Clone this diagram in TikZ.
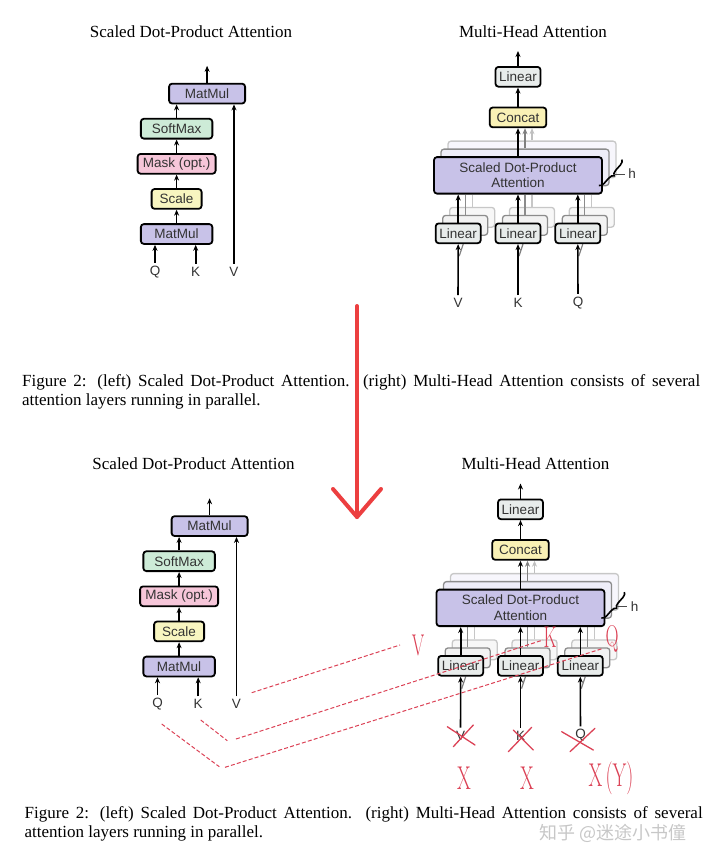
\documentclass[tikz,border=0pt]{standalone}
\usepackage{fontspec}
\usepackage{xcolor}
\usepackage{tikz}
\usetikzlibrary{arrows.meta,positioning,backgrounds,decorations.pathreplacing}
\newfontfamily\capfont{Liberation Serif}
\newfontfamily\boxfont{Liberation Sans}
\newfontfamily\zhfont{Noto Sans CJK SC}
\definecolor{mmpurple}{HTML}{C8C2E8}
\definecolor{smgreen}{HTML}{CDEBD7}
\definecolor{mkpink}{HTML}{F6C6D9}
\definecolor{scyellow}{HTML}{F8F5C0}
\definecolor{lngray}{HTML}{E8ECEB}
\definecolor{ccyellow}{HTML}{F9F1B5}
\definecolor{markred}{HTML}{DB4155}
\definecolor{arrowred}{HTML}{EC3F40}
\newcommand{\redtxt}[2][30]{\scalebox{0.6}[1]{\rmfamily\fontsize{#1}{#1}\selectfont #2}}

\begin{document}
\begin{tikzpicture}[x=1pt,y=-1pt,
  every node/.style={font=\boxfont\fontsize{13.5}{15.5}\selectfont,text=black!80},
  box/.style={draw=black,line width=1.8pt,rounded corners=3pt,inner sep=0pt,minimum height=19.8pt,align=center},
  ghost/.style={draw,line width=1.3pt,rounded corners=3pt,inner sep=0pt,minimum height=19.8pt},
  inp/.style={inner sep=3pt},
  arr/.style={-{Stealth[length=6pt,width=5pt]},line width=1.6pt},
  ttl/.style={font=\capfont\fontsize{17}{20}\selectfont,text=black,anchor=base},
  capline/.style={font=\capfont\fontsize{17}{20}\selectfont,text=black,anchor=base west,inner sep=0pt},
  redletter/.style={text=markred,inner sep=0pt},
  redline/.style={markred,line width=1pt,dash pattern=on 4pt off 2.2pt},
  cross/.style={markred,line width=1.3pt,line cap=round}]
\useasboundingbox (0,0) rectangle (720,863);

% original figure, then the same figure again below
\foreach \p/\dx/\dy in {a/0/0,b/2.5/432.5}{
\begin{scope}[shift={(\dx,\dy)}]
% left: scaled dot-product attention
\node[ttl] (\p-t1) at (191,37) {Scaled Dot-Product Attention};
\node[box,fill=mmpurple,minimum width=71.5pt] (\p-mm1) at (176.6,234) {MatMul};
\node[box,fill=scyellow,minimum width=50pt,above=13.5pt of \p-mm1] (\p-sc) {Scale};
\node[box,fill=mkpink,minimum width=78pt,above=13.5pt of \p-sc] (\p-mk) {Mask (opt.)};
\node[box,fill=smgreen,minimum width=71.5pt,above=13.5pt of \p-mk] (\p-sm) {SoftMax};
\node[box,fill=mmpurple,minimum width=76pt,above=13.5pt of \p-sm,xshift=30.5pt] (\p-mm2) {MatMul};
\node[inp] (\p-q) at (155,271.7) {Q};
\node[inp] (\p-k) at (195.7,271.7) {K};
\node[inp] (\p-v) at (234,271.7) {V};
\coordinate[above=17pt of \p-mm2] (\p-o1);
\draw[arr] (\p-q) -- (\p-q |- \p-mm1.south);
\draw[arr] (\p-k) -- (\p-k |- \p-mm1.south);
\draw[arr] (\p-v) -- (\p-v |- \p-mm2.south);
\draw[arr] (\p-mm1) -- (\p-sc);
\draw[arr] (\p-sc) -- (\p-mk);
\draw[arr] (\p-mk) -- (\p-sm);
\draw[arr] (\p-sm) -- (\p-sm |- \p-mm2.south);
\draw[arr] (\p-mm2) -- (\p-o1);
% right: multi-head attention
\node[ttl] (\p-t2) at (533,37) {Multi-Head Attention};
\node[box,fill=lngray,minimum width=45pt] (\p-l2) at (518,233.3) {Linear};
\node[box,fill=lngray,minimum width=45pt,left=13pt of \p-l2] (\p-l1) {Linear};
\node[box,fill=lngray,minimum width=45pt,right=13pt of \p-l2] (\p-l3) {Linear};
\node[box,fill=mmpurple,minimum width=168pt,minimum height=36.5pt,above=28pt of \p-l2] (\p-at) {Scaled Dot-Product\\Attention};
\node[box,fill=ccyellow,minimum width=56.5pt,above=28pt of \p-at] (\p-cc) {Concat};
\node[box,fill=lngray,minimum width=45pt,above=19pt of \p-cc] (\p-lo) {Linear};
\coordinate[above=15pt of \p-lo] (\p-o2);
\node[inp] (\p-iv) at (458,303) {V};
\node[inp] (\p-ik) at (518,303) {K};
\node[inp] (\p-iq) at (578,303) {Q};
\begin{pgfonlayer}{background}
\foreach \n in {l1,l2,l3}{
  \node[ghost,draw=black!22,fill=black!3,minimum width=45pt,xshift=14pt,yshift=16pt] (\p-\n g2) at (\p-\n) {};
  \node[ghost,draw=black!45,fill=black!5,minimum width=45pt,xshift=7pt,yshift=8pt] (\p-\n g1) at (\p-\n) {};
  \draw[black!22,line width=1.3pt] (\p-\n g2.north) -- (\p-\n g2.north |- \p-at.south);
  \draw[black!45,line width=1.3pt] (\p-\n g1.north) -- (\p-\n g1.north |- \p-at.south);
  \draw[black!50,line width=1.2pt] ([xshift=1pt,yshift=-12pt]\p-\n.south) -- ([xshift=5pt]\p-\n.south);
}
\node[ghost,draw=black!22,fill=mmpurple!15,minimum width=168pt,minimum height=36.5pt,xshift=14pt,yshift=16pt] (\p-ag2) at (\p-at) {};
\node[ghost,draw=black!45,fill=mmpurple!30,minimum width=168pt,minimum height=36.5pt,xshift=7pt,yshift=8pt] (\p-ag1) at (\p-at) {};
\draw[arr,black!25] (\p-ag2.north) -- (\p-ag2.north |- \p-cc.south);
\draw[arr,black!50] (\p-ag1.north) -- (\p-ag1.north |- \p-cc.south);
\end{pgfonlayer}
\foreach \n/\i in {l1/iv,l2/ik,l3/iq}{
  \draw[arr] (\p-\i) -- (\p-\n);
  \draw[arr] (\p-\n) -- (\p-\n |- \p-at.south);
}
\draw[arr] (\p-at) -- (\p-cc);
\draw[arr] (\p-cc) -- (\p-lo);
\draw[arr] (\p-lo) -- (\p-o2);
\draw[decorate,decoration={brace,amplitude=5pt},line width=1.6pt] ([xshift=19pt,yshift=35pt]\p-at.south east) -- ([xshift=-4pt,yshift=9pt]\p-at.south east);
\node (\p-h) at (632,174) {h};
\coordinate (\p-bt) at (614,174);
\draw[black!70,line width=1pt] (\p-bt) -- (\p-h);
% caption
\node[capline] (\p-c1) at (22,386) {\makebox[678pt][s]{Figure 2: (left) Scaled Dot-Product Attention. (right) Multi-Head Attention consists of several}};
\node[capline] (\p-c2) at (22,405) {attention layers running in parallel.};
\end{scope}}

% red markup on the lower copy
\node[redletter] (rv) at (418,645) {\redtxt{V}};
\node[redletter] (rk) at (550,637) {\redtxt{K}};
\node[redletter] (rq) at (612,639) {\redtxt{Q}};
\node[redletter] (xv) at (464,778) {\redtxt[33]{X}};
\node[redletter] (xk) at (527,778) {\redtxt[33]{X}};
\node[redletter] (xq) at (611,778) {\redtxt[33]{X\,(Y)}};
\coordinate (dv1) at (251.7,692.7);
\coordinate (dv2) at (400,645);
\coordinate (dk1) at (200.7,720);
\coordinate (dk2) at (227.3,740.7);
\coordinate (dk3) at (236,739);
\coordinate (dk4) at (543,640);
\coordinate (dq1) at (161.7,724);
\coordinate (dq2) at (219.3,766.7);
\coordinate (dq3) at (225,767.3);
\coordinate (dq4) at (603.3,648.3);
\draw[redline] (dv1) -- (dv2);
\draw[redline] (dk1) -- (dk2);
\draw[redline] (dk3) -- (dk4);
\draw[redline] (dq1) -- (dq2);
\draw[redline] (dq3) -- (dq4);
\draw[cross] (447.3,726.7) -- (475,745);
\draw[cross] (473.3,725) -- (453.3,746.7);
\draw[cross] (508.3,751.7) -- (531.7,727.3);
\draw[cross] (513.3,730) -- (533.3,750);
\draw[cross] (561.7,731.7) -- (593.3,750);
\draw[cross] (570,751.7) -- (595,728.3);
\node[text=black!22,font=\zhfont\fontsize{18}{18}\selectfont] (wm) at (613,833) {知乎 @迷途小书僮};
% big arrow
\coordinate (bat) at (357,306);
\coordinate (bah) at (357,517);
\draw[arrowred,line width=4pt,line cap=round] (bat) -- (bah);
\draw[arrowred,line width=4pt,line cap=round,line join=round] (333,489) -- (bah) -- (381,489);
\end{tikzpicture}
\end{document}
